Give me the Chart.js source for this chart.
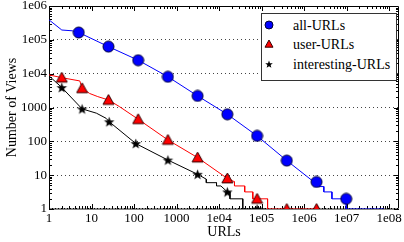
<!DOCTYPE html>
<html>
<head>
<meta charset="utf-8">
<title>URL views</title>
<script src="https://cdn.jsdelivr.net/npm/chart.js"></script>
<style>
  html, body { margin: 0; padding: 0; background: #fff; }
  #wrap { position: relative; width: 404px; height: 242px; }
  #legend {
    position: absolute; left: 261px; top: 13px; width: 134px; height: 66px;
    border: 1px solid #333; background: #fff;
    font: 14px "Liberation Serif", serif; color: #000;
  }
  .row { position: absolute; left: 0; width: 134px; height: 20px; line-height: 20px; }
  .row canvas { position: absolute; left: 2px; top: 4px; }
  .row span { position: absolute; left: 31px; white-space: nowrap; }
</style>
</head>
<body>
<div id="wrap">
  <canvas id="chart" width="404" height="242"></canvas>
  <div id="legend"></div>
</div>

<script>
// axis ticks
const xTicks = [1, 10, 100, 1000, 1e4, 1e5, 1e6, 1e7, 1e8];
const xTickLabels = ['1', '10', '100', '1000', '1e04', '1e05', '1e06', '1e07', '1e08'];
const yTicks = [1, 10, 100, 1000, 1e4, 1e5, 1e6];
const yTickLabels = ['1', '10', '100', '1000', '1e04', '1e05', '1e06'];

const seriesNames = ['all-URLs', 'user-URLs', 'interesting-URLs'];

// curves (rank vs views)
const allLineX = [1, 2, 3.5, 5, 25, 125, 625, 3125, 15625, 78125, 390625, 1.7e6, 2.2e6, 2.9e6, 2.9e6, 4.5e6, 4.5e6, 9.77e6, 9.77e6, 7.5e7];
const allLineY = [390000, 195000, 185000, 165000, 63000, 25000, 8100, 2200, 630, 145, 27, 6.3, 4.6, 4.6, 3.2, 3.2, 2, 2, 1, 1];

const userLineX = [1, 2, 5.3, 6, 9, 14, 25, 45, 125, 625, 3125, 15625, 23000, 23000, 40000, 40000, 62000, 62000, 138000, 138000, 2e6];
const userLineY = [9200, 7600, 6100, 3700, 2600, 2100, 1670, 1070, 450, 110, 33, 8, 6.4, 4.8, 4.8, 3.2, 3.2, 2, 2, 1, 1];

const intLineX = [1, 2, 6, 13, 22, 26, 110, 625, 3125, 5000, 5000, 8700, 8700, 11000, 15625, 18000, 18000, 36000, 36000, 1.2e5];
const intLineY = [8600, 3900, 910, 680, 480, 380, 86, 28, 10.6, 7.6, 6, 6, 4.8, 4.8, 3.2, 3.2, 2, 2, 1, 1];

// markers
const allMarkX = [5, 25, 125, 625, 3125, 15625, 78125, 390625, 1953125, 9765625];
const allMarkY = [165000, 63000, 25000, 8100, 2200, 630, 145, 27, 6.3, 2];
const userMarkX = [2, 6, 25, 125, 625, 3125, 15625, 78125, 390625, 1953125];
const userMarkY = [7600, 3700, 1670, 450, 110, 33, 8, 2, 1, 1];
const intMarkX = [2, 6, 26, 110, 625, 3125, 15625, 78125];
const intMarkY = [3900, 910, 380, 86, 28, 10.6, 3.2, 1];

function pts(xs, ys) { return xs.map((x, i) => ({ x: x, y: ys[i] })); }

function makeMarker(kind, size) {
  const c = document.createElement('canvas');
  c.width = size + 2; c.height = size + 2;
  const g = c.getContext('2d');
  const m = (size + 2) / 2, r = size / 2;
  g.lineWidth = 1;
  g.beginPath();
  if (kind === 'circle') {
    g.arc(m, m, r, 0, Math.PI * 2);
    g.fillStyle = '#0000ff'; g.strokeStyle = '#000033';
    g.fill(); g.stroke();
  } else if (kind === 'tri') {
    g.moveTo(m, m - r);
    g.lineTo(m + r, m + r * 0.8);
    g.lineTo(m - r, m + r * 0.8);
    g.closePath();
    g.fillStyle = '#ff0000'; g.strokeStyle = '#330000';
    g.fill(); g.stroke();
  } else {
    for (let k = 0; k < 10; k++) {
      const a = -Math.PI / 2 + k * Math.PI / 5;
      const rr = k % 2 ? r * 0.42 : r;
      const px = m + rr * Math.cos(a), py = m + 0.5 + rr * Math.sin(a);
      if (k) g.lineTo(px, py); else g.moveTo(px, py);
    }
    g.closePath();
    g.fillStyle = '#000'; g.fill();
  }
  return c;
}

const colors = ['#0000ff', '#ff0000', '#000000'];
const kinds = ['circle', 'tri', 'star'];

// legend (html)
const legend = document.getElementById('legend');
const rowTops = [2, 21, 41];
seriesNames.forEach((name, i) => {
  const row = document.createElement('div');
  row.className = 'row';
  row.style.top = rowTops[i] + 'px';
  row.appendChild(makeMarker(kinds[i], 8));
  const s = document.createElement('span');
  s.textContent = name;
  row.appendChild(s);
  legend.appendChild(row);
});

function lineSet(xs, ys, color) {
  return { data: pts(xs, ys), borderColor: color, borderWidth: 1, pointRadius: 0, showLine: true, order: 2, fill: false };
}
function markSet(xs, ys, kind, label) {
  return { label: label, data: pts(xs, ys), showLine: false, pointStyle: makeMarker(kind, 11), order: 1 };
}

// gnuplot-like frame with inward ticks
const framePlugin = {
  id: 'frame',
  beforeDatasetsDraw(chart) {
    const ctx = chart.ctx, a = chart.chartArea;
    const xs = chart.scales.x, ys = chart.scales.y;
    ctx.save();
    ctx.strokeStyle = '#000';
    ctx.lineWidth = 1;
    ctx.beginPath();
    ctx.moveTo(a.left + 0.5, a.bottom); ctx.lineTo(a.left + 0.5, a.top + 0.5);
    ctx.lineTo(a.right - 0.5, a.top + 0.5); ctx.lineTo(a.right - 0.5, a.bottom);
    ctx.stroke();
    ctx.strokeStyle = '#888'; ctx.lineWidth = 2;
    ctx.beginPath(); ctx.moveTo(a.left, a.bottom); ctx.lineTo(a.right, a.bottom); ctx.stroke();
    ctx.strokeStyle = '#000'; ctx.lineWidth = 1; ctx.setLineDash([1, 2]);
    ctx.beginPath(); ctx.moveTo(a.left, a.bottom - 0.5); ctx.lineTo(a.right, a.bottom - 0.5); ctx.stroke();
    ctx.setLineDash([]);
    ctx.beginPath();
    for (let d = 0; d < 6; d++) {
      for (let k = 1; k < 10; k++) {
        const y = Math.round(ys.getPixelForValue(k * Math.pow(10, d))) + 0.5;
        const len = k === 1 ? 5 : 3;
        ctx.moveTo(a.left, y); ctx.lineTo(a.left + len, y);
        ctx.moveTo(a.right, y); ctx.lineTo(a.right - len, y);
      }
    }
    for (let d = 0; d < 9; d++) {
      for (let k = 1; k < 10; k++) {
        const v = k * Math.pow(10, d);
        if (v > xs.max) break;
        const x = Math.round(xs.getPixelForValue(v)) + 0.5;
        const len = k === 1 ? 5 : 3;
        ctx.moveTo(x, a.bottom); ctx.lineTo(x, a.bottom - len);
        ctx.moveTo(x, a.top); ctx.lineTo(x, a.top + len);
      }
    }
    ctx.stroke();
    ctx.restore();
  }
};

const tickFont = { family: '"Liberation Serif", serif', size: 13 };
const titleFont = { family: '"Liberation Serif", serif', size: 14 };

new Chart(document.getElementById('chart'), {
  type: 'scatter',
  data: {
    datasets: [
      markSet(allMarkX, allMarkY, 'circle', seriesNames[0]),
      markSet(userMarkX, userMarkY, 'tri', seriesNames[1]),
      markSet(intMarkX, intMarkY, 'star', seriesNames[2]),
      lineSet(allLineX, allLineY, colors[0]),
      lineSet(userLineX, userLineY, colors[1]),
      lineSet(intLineX, intLineY, colors[2])
    ]
  },
  options: {
    responsive: false,
    animation: false,
    devicePixelRatio: 1,
    layout: { padding: { top: 6, right: 4, left: 0, bottom: 0 } },
    plugins: { legend: { display: false }, tooltip: { enabled: false } },
    scales: {
      x: {
        type: 'logarithmic', min: 1, max: 1.7e8,
        afterBuildTicks: s => { s.ticks = xTicks.map(v => ({ value: v })); },
        afterFit: s => { s.height = 33; s.paddingLeft = 0; s.paddingRight = 0; },
        ticks: { font: tickFont, color: '#000', padding: 2, maxRotation: 0, autoSkip: false,
                 callback: v => xTickLabels[xTicks.indexOf(v)] },
        grid: { display: false, drawTicks: false },
        border: { display: false },
        title: { display: true, text: 'URLs', font: titleFont, color: '#000', padding: { top: 0, bottom: 1 } }
      },
      y: {
        type: 'logarithmic', min: 1, max: 1e6,
        afterBuildTicks: s => { s.ticks = yTicks.map(v => ({ value: v })); },
        afterFit: s => { s.width = 49; s.paddingTop = 0; s.paddingBottom = 0; },
        ticks: { font: tickFont, color: '#000', padding: 2, autoSkip: false,
                 callback: v => yTickLabels[yTicks.indexOf(v)] },
        grid: { drawTicks: false, color: c => (c.tick && (c.tick.value === 1 || c.tick.value === 1e6)) ? 'rgba(0,0,0,0)' : '#444', lineWidth: 1 },
        border: { display: false, dash: [1, 3] },
        title: { display: true, text: 'Number of Views', font: titleFont, color: '#000', padding: { top: 4, bottom: 0 } }
      }
    }
  },
  plugins: [framePlugin]
});
</script>
</body>
</html>
